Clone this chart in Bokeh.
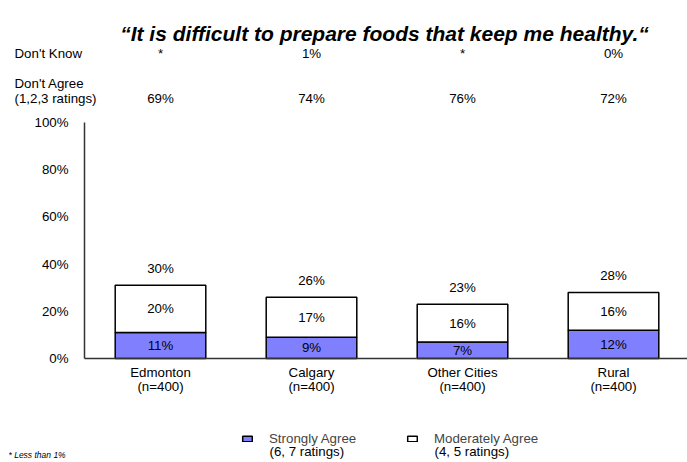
from bokeh.plotting import figure
from bokeh.models import (Range1d, FixedTicker, PrintfTickFormatter,
                          Legend, LegendItem)
from bokeh.core.properties import value
from bokeh.embed import file_html
from bokeh.resources import INLINE

# ---- data ----
categories = ["Edmonton", "Calgary", "Other Cities", "Rural"]
sample_sizes = ["(n=400)", "(n=400)", "(n=400)", "(n=400)"]
strongly_agree = [11, 9, 7, 12]
moderately_agree = [20, 17, 16, 16]
total_agree = [30, 26, 23, 28]
dont_agree = ["69%", "74%", "76%", "72%"]
dont_know = ["*", "1%", "*", "0%"]
y_ticks = [0, 20, 40, 60, 80, 100]

FONT = "Liberation Sans"
FS = "13.3px"
BLUE = "#8080FF"
W, H = 687, 462
# layout in canvas px
AX_X, Y0_PX, Y100_PX = 84, 358, 122
FIRST_CENTER, PX_PER_CAT = 160, 151.0
PX_PER_UNIT = (Y0_PX - Y100_PX) / 100.0

def xv(px):
    return (px - FIRST_CENTER) / PX_PER_CAT

def yv(px):
    return (Y0_PX - px) / PX_PER_UNIT

p = figure(width=W, height=H, output_backend="svg", toolbar_location=None,
           x_range=Range1d(xv(0), xv(W)), y_range=Range1d(yv(H), yv(0)),
           min_border=0, outline_line_color=None,
           background_fill_color="white", border_fill_color="white")
p.grid.visible = False

xs = list(range(len(categories)))
top_total = [s + m for s, m in zip(strongly_agree, moderately_agree)]

r_strong = p.vbar(x=xs, bottom=0, top=strongly_agree, width=0.6,
                  fill_color=BLUE, line_color="black", line_width=1.5)
r_mod = p.vbar(x=xs, bottom=strongly_agree, top=top_total, width=0.6,
               fill_color="white", line_color="black", line_width=1.5)

# axes placed inside the canvas-sized frame
p.yaxis.fixed_location = xv(AX_X)
p.yaxis.bounds = (0, 100)
p.yaxis.ticker = FixedTicker(ticks=y_ticks)
p.yaxis.formatter = PrintfTickFormatter(format="%d%%")
p.xaxis.fixed_location = 0
p.xaxis.bounds = (xv(AX_X), xv(W))
p.xaxis.ticker = FixedTicker(ticks=xs)
p.xaxis.major_label_overrides = {i: c for i, c in enumerate(categories)}
for ax in (p.xaxis[0], p.yaxis[0]):
    ax.axis_line_color = "#333333"
    ax.axis_line_width = 1.5
    ax.major_tick_line_color = None
    ax.minor_tick_line_color = None
    ax.major_label_text_font = FONT
    ax.major_label_text_font_size = FS
    ax.major_label_text_color = "black"
p.yaxis.major_label_standoff = 10
p.xaxis.major_label_standoff = 0

def txt(x, y, text, align="center", size=FS, style="normal"):
    p.text(x=x, y=y, text=text, text_align=align, text_baseline="middle",
           text_font=value(FONT), text_font_size=size,
           text_font_style=style, text_color="black")

# labels on bars
txt(xs, [s / 2 for s in strongly_agree], [f"{v}%" for v in strongly_agree])
txt(xs, [s + m / 2 for s, m in zip(strongly_agree, moderately_agree)],
    [f"{v}%" for v in moderately_agree])
txt(xs, [t + yv(Y0_PX - 17) for t in top_total], [f"{v}%" for v in total_agree])

# sample sizes under category names
txt(xs, [yv(386)] * len(xs), sample_sizes)

# title
txt([xv(384)], [yv(33)],
    ["\u201cIt is difficult to prepare foods that keep me healthy.\u201c"],
    size="21px", style="bold italic")

# top rows
txt([xv(14)], [yv(53)], ["Don't Know"], align="left")
txt([xv(14)], [yv(83)], ["Don't Agree"], align="left")
txt([xv(14)], [yv(98)], ["(1,2,3 ratings)"], align="left")
txt(xs, [yv(53)] * len(xs), dont_know)
txt(xs, [yv(98)] * len(xs), dont_agree)

# legend
for r, lbl, x0 in ((r_strong, "Strongly Agree", 241),
                   (r_mod, "Moderately Agree", 406)):
    lg = Legend(items=[LegendItem(label=lbl, renderers=[r])],
                location=(x0, 16), glyph_width=12, glyph_height=7,
                label_standoff=16, label_text_font=FONT,
                label_text_font_size=FS, padding=0, margin=0,
                border_line_color=None, background_fill_alpha=0)
    p.add_layout(lg, "center")
txt([xv(269)], [yv(451)], ["(6, 7 ratings)"], align="left")
txt([xv(434)], [yv(451)], ["(4, 5 ratings)"], align="left")

txt([xv(8)], [yv(454)], ["* Less than 1%"], align="left", size="8.5px",
    style="italic")

open("out.html", "w").write(file_html(p, INLINE))
